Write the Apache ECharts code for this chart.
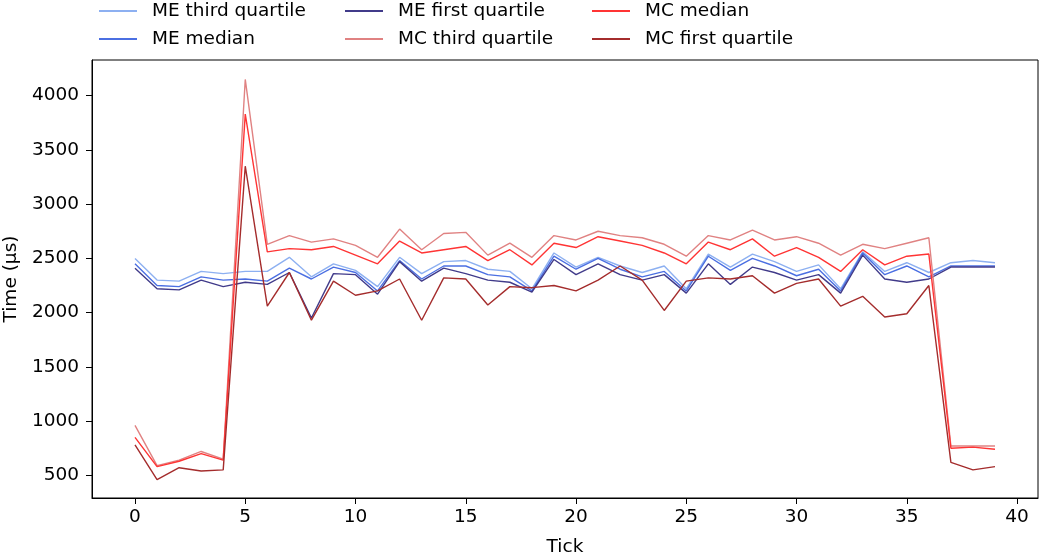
<!DOCTYPE html>
<html>
<head>
<meta charset="utf-8">
<script src="https://cdn.jsdelivr.net/npm/echarts@6/dist/echarts.min.js"></script>
<style>
  html, body { margin: 0; padding: 0; background: #fff; }
  #chart { width: 1040px; height: 556px; }
</style>
</head>
<body>
<div id="chart"></div>
<script>
const ticks = Array.from({ length: 40 }, (_, i) => i)
const xTickLabels = [0, 5, 10, 15, 20, 25, 30, 35, 40]
const yTickLabels = [500, 1000, 1500, 2000, 2500, 3000, 3500, 4000]

const meThirdQuartile = [2500, 2300, 2290, 2380, 2360, 2380, 2380, 2510, 2330, 2450, 2390, 2240, 2510, 2360, 2470, 2480, 2400, 2380, 2220, 2550,
  2420, 2510, 2430, 2370, 2430, 2220, 2540, 2420, 2540, 2470, 2380, 2440, 2220, 2560, 2380, 2460, 2370, 2460, 2480, 2460]
const meMedian = [2450, 2250, 2240, 2330, 2300, 2310, 2290, 2410, 2310, 2420, 2370, 2200, 2480, 2310, 2430, 2430, 2350, 2330, 2200, 2520,
  2400, 2500, 2400, 2330, 2380, 2200, 2520, 2390, 2500, 2430, 2340, 2400, 2200, 2550, 2350, 2430, 2330, 2430, 2430, 2430]
const meFirstQuartile = [2410, 2220, 2210, 2300, 2240, 2280, 2260, 2370, 1950, 2360, 2350, 2170, 2470, 2290, 2410, 2360, 2300, 2280, 2190, 2490,
  2350, 2450, 2350, 2300, 2350, 2180, 2450, 2260, 2420, 2370, 2300, 2350, 2180, 2530, 2310, 2280, 2310, 2420, 2420, 2420]
const mcMedian = [850, 580, 630, 700, 640, 3830, 2560, 2590, 2580, 2610, 2530, 2450, 2660, 2550, 2580, 2610, 2480, 2580, 2440, 2640,
  2600, 2700, 2660, 2620, 2550, 2450, 2650, 2580, 2680, 2520, 2600, 2510, 2380, 2580, 2440, 2520, 2540, 750, 760, 740]
const mcThirdQuartile = [960, 590, 640, 720, 650, 4150, 2630, 2710, 2650, 2680, 2620, 2510, 2770, 2580, 2730, 2740, 2530, 2640, 2510, 2710,
  2670, 2750, 2710, 2690, 2630, 2520, 2710, 2670, 2760, 2670, 2700, 2640, 2530, 2630, 2590, 2640, 2690, 770, 770, 770]
const mcFirstQuartile = [780, 460, 570, 540, 550, 3350, 2060, 2370, 1930, 2290, 2160, 2200, 2310, 1930, 2320, 2310, 2070, 2240, 2230, 2250,
  2200, 2300, 2430, 2300, 2020, 2290, 2320, 2310, 2340, 2180, 2270, 2310, 2060, 2150, 1960, 1990, 2250, 620, 550, 580]

const seriesDefs = [
  { name: 'ME third quartile', values: meThirdQuartile, color: '#8db0f1' },
  { name: 'ME median', values: meMedian, color: '#4b6fe2' },
  { name: 'ME first quartile', values: meFirstQuartile, color: '#413b8a' },
  { name: 'MC third quartile', values: mcThirdQuartile, color: '#e08282' },
  { name: 'MC median', values: mcMedian, color: '#ff3434' },
  { name: 'MC first quartile', values: mcFirstQuartile, color: '#a42c2c' },
]

const font = 'DejaVu Sans'
const fontSize = 18.5
const legendCol = (left, names) => ({
  left: left,
  top: 1,
  orient: 'vertical',
  padding: 0,
  itemGap: 8,
  itemWidth: 38,
  itemHeight: 2,
  icon: 'rect',
  data: names,
  textStyle: { fontFamily: font, fontSize: fontSize, color: '#000', lineHeight: 20, padding: [0, 0, 0, 10] },
})

const chart = echarts.init(document.getElementById('chart'), null, { renderer: 'canvas' })

const option = {
  backgroundColor: '#fff',
  animation: false,
  legend: [
    legendCol(99, ['ME third quartile', 'ME median']),
    legendCol(345, ['ME first quartile', 'MC third quartile']),
    legendCol(592, ['MC median', 'MC first quartile']),
  ],
  grid: {
    left: 92,
    right: 2,
    top: 60,
    bottom: 58,
    outerBoundsMode: 'none',
    containLabel: false,
    show: true,
    borderColor: '#000',
    borderWidth: 1,
  },
  xAxis: {
    type: 'value',
    min: -1.95,
    max: 40.95,
    name: 'Tick',
    nameLocation: 'middle',
    nameGap: 40,
    nameTextStyle: { fontFamily: font, fontSize: fontSize, color: '#000' },
    axisLine: { show: true, onZero: false, lineStyle: { color: '#000' } },
    axisTick: { show: true, length: 6, lineStyle: { color: '#000' }, customValues: xTickLabels },
    axisLabel: { fontFamily: font, fontSize: fontSize, color: '#000', margin: 10, customValues: xTickLabels },
    splitLine: { show: false },
  },
  yAxis: {
    type: 'value',
    min: 291,
    max: 4329,
    name: 'Time (µs)',
    nameLocation: 'middle',
    nameGap: 58,
    nameTextStyle: { fontFamily: font, fontSize: fontSize, color: '#000' },
    axisLine: { show: true, onZero: false, lineStyle: { color: '#000' } },
    axisTick: { show: true, length: 6, lineStyle: { color: '#000' }, customValues: yTickLabels },
    axisLabel: {
      fontFamily: font, fontSize: fontSize, color: '#000', margin: 13, customValues: yTickLabels,
      formatter: v => String(v),
    },
    splitLine: { show: false },
  },
  series: seriesDefs.map(s => ({
    name: s.name,
    type: 'line',
    symbol: 'none',
    color: s.color,
    lineStyle: { width: 1.4, color: s.color },
    data: ticks.map((t, i) => [t, s.values[i]]),
  })),
}

chart.setOption(option)
</script>
</body>
</html>
